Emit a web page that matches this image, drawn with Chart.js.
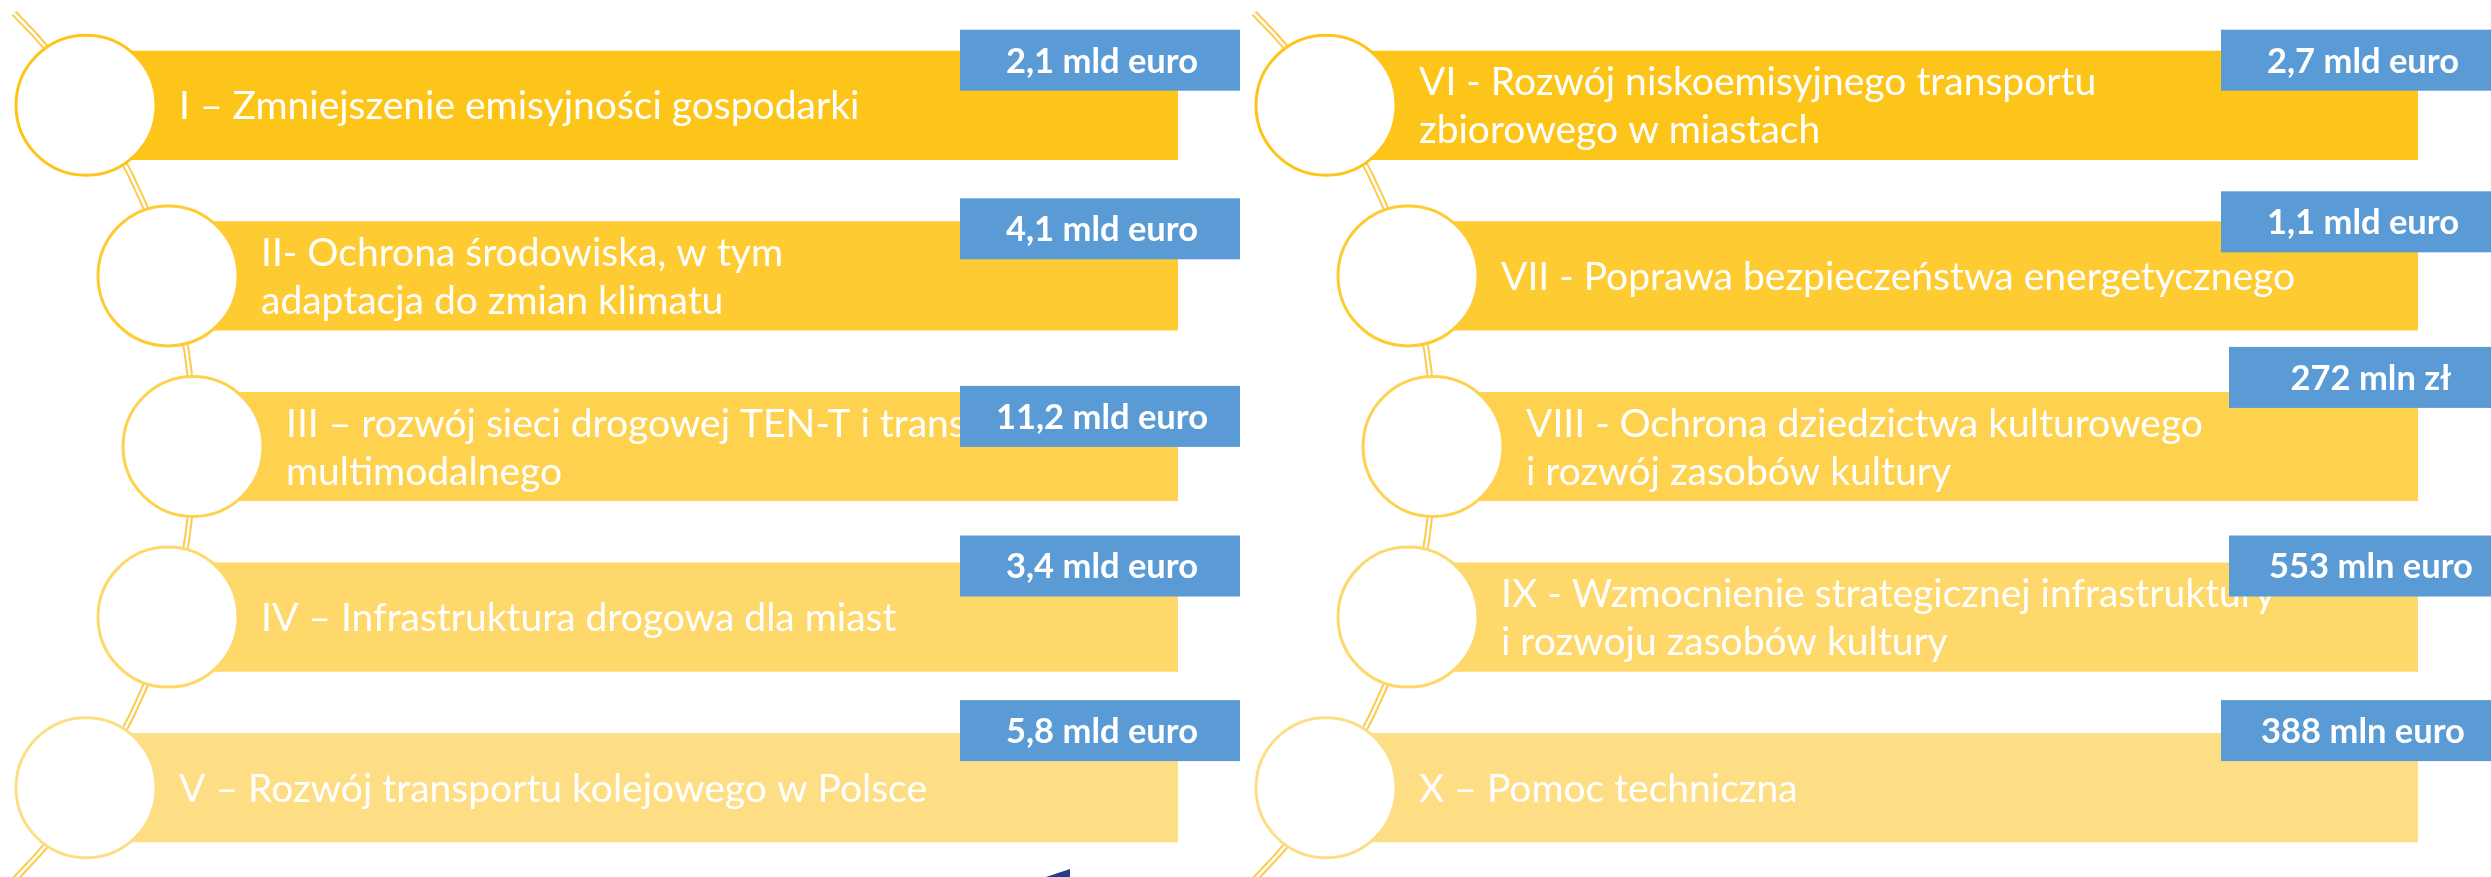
<!DOCTYPE html>
<html lang="pl">
<head>
<meta charset="utf-8">
<title>Osie priorytetowe</title>
<script src="https://cdn.jsdelivr.net/npm/chart.js@4.4.1/dist/chart.umd.min.js"></script>
<style>
  html, body { margin: 0; padding: 0; background: #fff; overflow: hidden; }
  canvas { display: block; }
</style>
</head>
<body>
<canvas id="axesChart" width="2491" height="877"></canvas>
<script>
// rows of the two columns (I-V on the left, VI-X on the right)
const rows = ["1", "2", "3", "4", "5"];

const leftTitles = [
  ["I – Zmniejszenie emisyjności gospodarki"],
  ["II- Ochrona środowiska, w tym", "adaptacja do zmian klimatu"],
  ["III – rozwój sieci drogowej TEN-T i transportu", "multimodalnego"],
  ["IV – Infrastruktura drogowa dla miast"],
  ["V – Rozwój transportu kolejowego w Polsce"]
];
const rightTitles = [
  ["VI - Rozwój niskoemisyjnego transportu", "zbiorowego w miastach"],
  ["VII - Poprawa bezpieczeństwa energetycznego"],
  ["VIII - Ochrona dziedzictwa kulturowego", "i rozwój zasobów kultury"],
  ["IX - Wzmocnienie strategicznej infrastruktury", "i rozwoju zasobów kultury"],
  ["X – Pomoc techniczna"]
];
const leftAmounts = ["2,1 mld euro", "4,1 mld euro", "11,2 mld euro", "3,4 mld euro", "5,8 mld euro"];
const rightAmounts = ["2,7 mld euro", "1,1 mld euro", "272 mln zł", "553 mln euro", "388 mln euro"];

// layout / style
const rowColors = ["#FDC51A", "#FECB33", "#FED24E", "#FED86A", "#FEDE84"];
const circleX = [86, 168, 193, 168, 86];   // circle centres along the curve
const PANEL_SHIFT = 1240;
const BAR_END = 1178;
const BOX_W = 280;
const BOX_H = 61;
const boxX = [[960, 960, 960, 960, 960], [981, 981, 989, 989, 981]];
const boxLift = [[21, 23, 6, 27, 33], [21, 30, 45, 27, 33]];
const ARC_R = 612;
const TITLE_FONT = 39;
const AMOUNT_FONT = 34.5;
const LINE_GAP = 48;

function drawArc(ctx, mid) {
  const cx = mid.x + 1 - ARC_R;
  const cy = mid.y;
  const a0 = Math.asin((13 - cy) / ARC_R);
  const a1 = Math.asin(Math.min(1, (900 - cy) / ARC_R));
  ctx.save();
  ctx.lineCap = "butt";
  ctx.beginPath();
  ctx.arc(cx, cy, ARC_R, a0, a1);
  ctx.strokeStyle = "#FCCB4C";
  ctx.lineWidth = 6.5;
  ctx.stroke();
  ctx.beginPath();
  ctx.arc(cx, cy, ARC_R, a0 - 0.004, a1);
  ctx.strokeStyle = "#fff";
  ctx.lineWidth = 2.5;
  ctx.stroke();
  ctx.restore();
}

const decorPlugin = {
  id: "decor",
  beforeDatasetsDraw(chart) {
    const ctx = chart.ctx;
    drawArc(ctx, chart.getDatasetMeta(2).data[2]);
    drawArc(ctx, chart.getDatasetMeta(3).data[2]);
  },
  afterDatasetsDraw(chart) {
    const ctx = chart.ctx;
    const panels = [
      { titles: leftTitles, amounts: leftAmounts, bars: 0, circles: 2 },
      { titles: rightTitles, amounts: rightAmounts, bars: 1, circles: 3 }
    ];
    ctx.save();
    ctx.textBaseline = "alphabetic";
    panels.forEach((p, pi) => {
      const barMeta = chart.getDatasetMeta(p.bars).data;
      const circMeta = chart.getDatasetMeta(p.circles).data;
      // titles
      ctx.font = `${TITLE_FONT}px Lato`;
      ctx.fillStyle = "#fff";
      ctx.textAlign = "left";
      const capH = TITLE_FONT * 0.72;
      p.titles.forEach((lines, i) => {
        const cy = barMeta[i].y;
        const tx = circMeta[i].x + 93;
        lines.forEach((line, j) => {
          const c = cy + (j - (lines.length - 1) / 2) * LINE_GAP;
          ctx.fillText(line, tx, c + capH / 2);
        });
      });
      // amount boxes
      p.amounts.forEach((txt, i) => {
        const bar = barMeta[i];
        const top = bar.y - bar.height / 2 - boxLift[pi][i];
        const bx = boxX[pi][i] + pi * PANEL_SHIFT;
        ctx.fillStyle = "#5B9BD5";
        ctx.fillRect(bx, top, BOX_W, BOX_H);
        ctx.font = `bold ${AMOUNT_FONT}px Lato`;
        ctx.fillStyle = "#fff";
        ctx.textAlign = "center";
        ctx.fillText(txt, bx + BOX_W / 2 + 2, top + BOX_H / 2 + AMOUNT_FONT * 0.72 / 2);
      });
    });
    // fragment of a dark blue shape at the bottom edge
    ctx.fillStyle = "#1F3F8C";
    ctx.beginPath();
    ctx.moveTo(1046, 877);
    ctx.lineTo(1070, 869);
    ctx.lineTo(1070, 877);
    ctx.closePath();
    ctx.fill();
    ctx.restore();
  }
};

const leftBars = rows.map((r, i) => [circleX[i], BAR_END]);
const rightBars = rows.map((r, i) => [circleX[i] + PANEL_SHIFT, BAR_END + PANEL_SHIFT]);
const leftCircles = rows.map((r, i) => ({ x: circleX[i], y: r }));
const rightCircles = rows.map((r, i) => ({ x: circleX[i] + PANEL_SHIFT, y: r }));

const barStyle = {
  backgroundColor: rowColors,
  borderWidth: 0,
  grouped: false,
  categoryPercentage: 1,
  barPercentage: 0.64,
  order: 2
};
const circleStyle = {
  type: "line",
  showLine: false,
  pointRadius: 70,
  pointStyle: "circle",
  pointBackgroundColor: "#fff",
  pointBorderColor: rowColors,
  pointBorderWidth: 3,
  clip: false,
  order: 0
};

new Chart(document.getElementById("axesChart"), {
  type: "bar",
  data: {
    labels: rows,
    datasets: [
      { label: "Osie I–V", data: leftBars, ...barStyle },
      { label: "Osie VI–X", data: rightBars, ...barStyle },
      { label: "Koła I–V", data: leftCircles, ...circleStyle },
      { label: "Koła VI–X", data: rightCircles, ...circleStyle }
    ]
  },
  options: {
    indexAxis: "y",
    responsive: false,
    animation: false,
    devicePixelRatio: 1,
    events: [],
    layout: { autoPadding: false, padding: { top: 20, bottom: 4, left: 0, right: 0 } },
    scales: {
      x: { type: "linear", min: 0, max: 2491, display: false },
      y: { type: "category", labels: rows, offset: true, display: false }
    },
    plugins: {
      legend: { display: false },
      tooltip: { enabled: false }
    }
  },
  plugins: [decorPlugin]
});
</script>
</body>
</html>
